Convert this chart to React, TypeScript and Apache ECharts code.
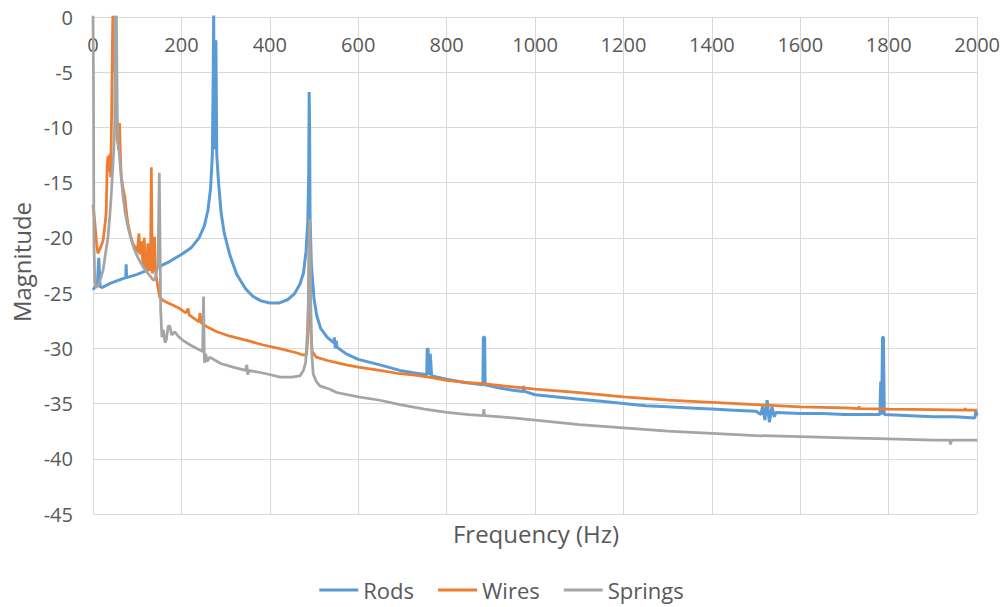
import React, { useEffect, useRef } from "react";
import * as echarts from "echarts";

const seriesNames = ["Rods", "Wires", "Springs"];
const xTicks = { min: 0, max: 2000, interval: 200 };
const yTicks = { min: -45, max: 0, interval: 5 };

const rods: [number, number][] = [
  [0, -24.7], [5, -24.4], [10, -24.2], [13, -21.8], [16, -24.4], [20, -24.5], [40, -24.1], [60, -23.8],
  [74, -23.6], [75, -22.4], [76, -23.6], [100, -23.3], [125, -22.9], [150, -22.6], [175, -22.1], [200, -21.5],
  [222, -20.9], [240, -20.0], [252, -18.9], [260, -17.5], [266, -15.5], [270, -12.5], [272, -5], [273, 0.5],
  [274, -9], [275, -12], [276, -6], [277, -11], [278, -2.1], [279, -2.1], [280, -12.5], [284, -15],
  [290, -17.8], [297, -19.6], [310, -21.6], [325, -23.3], [345, -24.6], [362, -25.3], [380, -25.7], [400, -25.9],
  [420, -25.9], [440, -25.6], [455, -25.1], [468, -24.2], [476, -23.2], [482, -21.2], [486, -18.5], [488, -14],
  [489, -6.8], [490, -10], [491, -18], [494, -22.5], [500, -25.5], [506, -27], [515, -28.2], [530, -29.0],
  [545, -29.5], [546, -29.0], [548, -30.0], [550, -29.3], [552, -29.9], [573, -30.5], [600, -31.0], [649, -31.5],
  [694, -32.0], [724, -32.2], [755, -32.4], [756, -30.0], [758, -30.1], [760, -32.4], [763, -30.5], [766, -32.5],
  [800, -32.8], [840, -33.1], [882, -33.3], [883, -29.0], [886, -29.0], [887, -33.3], [920, -33.6], [950, -33.8],
  [973, -33.9], [974, -33.4], [976, -33.9], [1000, -34.2], [1050, -34.4], [1100, -34.6], [1150, -34.8], [1200, -35.0],
  [1250, -35.2], [1300, -35.3], [1350, -35.4], [1400, -35.5], [1450, -35.6], [1500, -35.7], [1511, -36.0], [1515, -35.2],
  [1520, -36.5], [1525, -34.7], [1530, -36.7], [1536, -35.3], [1541, -36.2], [1545, -35.8], [1600, -35.9], [1650, -35.9],
  [1700, -36.0], [1750, -36.0], [1780, -36.0], [1782, -33.0], [1784, -36.0], [1786, -29.0], [1788, -29.0], [1790, -36.0],
  [1850, -36.1], [1900, -36.2], [1950, -36.2], [1995, -36.3], [1997, -35.7], [2000, -36.1],
];

const wires: [number, number][] = [
  [0, -17.0], [4, -18.5], [8, -20.5], [11, -21.4], [16, -21.0], [23, -20.2], [28, -18.5], [30, -17.5],
  [32, -13.5], [34, -12.6], [36, -14.0], [38, -12.4], [40, -14.5], [42, -9], [44, -2], [45, 0.5],
  [47, -5], [48, 0.5], [50, -3], [52, -8], [55, -11], [58, -12], [60, -9.6], [62, -12.5],
  [64, -14.5], [68, -15.5], [72, -16.3], [76, -17.8], [79, -18.7], [85, -19.8], [90, -20.5], [96, -20.9],
  [100, -21.3], [104, -19.6], [106, -21.5], [110, -20.3], [113, -22.5], [116, -20.0], [118, -22.8], [121, -22.9],
  [124, -20.5], [127, -23], [130, -22.5], [132, -13.6], [134, -23.2], [137, -22.8], [139, -19.9], [141, -22.5],
  [143, -23.5], [147, -24.5], [151, -25.4], [160, -25.7], [170, -25.9], [192, -26.3], [210, -26.8], [215, -26.4],
  [218, -27.0], [240, -27.6], [242, -26.8], [245, -27.7], [260, -28.1], [280, -28.5], [310, -28.9], [350, -29.3],
  [385, -29.7], [420, -30.0], [460, -30.4], [475, -30.6], [483, -30.6], [486, -29.0], [488, -24], [490, -18.5],
  [491, -22], [493, -28.5], [496, -30.3], [505, -30.8], [530, -31.1], [551, -31.3], [573, -31.5], [600, -31.7],
  [649, -32.0], [694, -32.3], [724, -32.4], [760, -32.6], [800, -32.9], [850, -33.1], [882, -33.2], [950, -33.5],
  [1000, -33.7], [1100, -34.0], [1200, -34.4], [1300, -34.7], [1400, -34.9], [1500, -35.1], [1600, -35.3], [1700, -35.4],
  [1732, -35.45], [1733, -35.25], [1734, -35.45], [1800, -35.5], [1900, -35.55], [1972, -35.6], [1973, -35.4], [1974, -35.6],
  [2000, -35.6],
];

const springs: [number, number][] = [
  [0, 0.5], [1, -5], [2, -20], [4, -24.0], [8, -24.5], [12, -24.3], [18, -23.6], [23, -22.9],
  [28, -21.5], [34, -19.9], [38, -18.0], [41, -16.3], [44, -14.2], [47, -12.0], [49, -10], [50, 0.5],
  [52, -8], [53, 0.5], [55, -9], [57, -11.4], [60, -12.6], [64, -14.6], [68, -16.3], [73, -17.8],
  [79, -19.0], [86, -20.1], [94, -21.1], [103, -21.9], [113, -22.6], [124, -23.2], [136, -23.8], [140, -23.8],
  [143, -23.2], [147, -22.5], [150, -14.1], [151, -14.1], [152, -22], [153, -26.5], [156, -29.0], [159, -28.3],
  [163, -29.5], [166, -29.2], [170, -28.0], [174, -28.0], [178, -28.8], [185, -28.5], [195, -29.0], [204, -29.3],
  [220, -29.7], [234, -30.0], [248, -30.3], [250, -25.3], [251, -25.3], [252, -31.3], [255, -30.5], [258, -31.2],
  [264, -30.8], [290, -31.4], [317, -31.7], [345, -32.0], [348, -31.5], [350, -32.4], [352, -32.0], [392, -32.3],
  [423, -32.6], [450, -32.6], [468, -32.5], [476, -32.0], [481, -31.3], [485, -28.5], [487, -26], [489, -20],
  [490, -18.3], [491, -20], [493, -27], [495, -30.5], [498, -32.3], [505, -33.0], [513, -33.4], [536, -33.7],
  [551, -34.0], [600, -34.4], [649, -34.7], [694, -35.1], [750, -35.5], [800, -35.8], [850, -36.0], [883, -36.1],
  [884, -35.5], [886, -36.1], [950, -36.3], [1000, -36.5], [1100, -36.9], [1200, -37.2], [1300, -37.5], [1400, -37.7],
  [1500, -37.9], [1600, -38.0], [1700, -38.1], [1800, -38.2], [1900, -38.3], [1938, -38.3], [1940, -38.7], [1942, -38.3],
  [2000, -38.3],
];

const colors = ["#5B9BD5", "#ED7D31", "#A5A5A5"];

export default function App() {
  const ref = useRef<HTMLDivElement>(null);
  useEffect(() => {
    document.body.style.margin = "0";
    if (!ref.current) return;
    const chart = echarts.init(ref.current, null, { renderer: "svg" });
    const font = "'Open Sans', sans-serif";
    const gridColor = "#D9D9D9";
    const textColor = "#595959";
    chart.setOption({
      animation: false,
      backgroundColor: "#ffffff",
      textStyle: { fontFamily: font },
      grid: { left: 93, right: 25, top: 17, bottom: 93, containLabel: false },
      xAxis: {
        type: "value",
        position: "top",
        min: xTicks.min,
        max: xTicks.max,
        interval: xTicks.interval,
        axisLine: { show: true, lineStyle: { color: gridColor, width: 1 } },
        axisTick: { show: false },
        axisLabel: {
          inside: true,
          margin: 17,
          fontSize: 20,
          color: textColor,
          fontFamily: font,
          formatter: (v: number) => String(v),
        },
        splitLine: { show: true, lineStyle: { color: gridColor, width: 1 } },
      },
      yAxis: {
        type: "value",
        min: yTicks.min,
        max: yTicks.max,
        interval: yTicks.interval,
        axisLine: { show: true, lineStyle: { color: gridColor, width: 1 } },
        axisTick: { show: false },
        axisLabel: { margin: 20, fontSize: 20, color: textColor, fontFamily: font, formatter: (v: number) => String(v) },
        splitLine: { show: true, lineStyle: { color: gridColor, width: 1 } },
      },
      legend: {
        data: seriesNames.map((n) => ({ name: n, icon: "rect" })),
        left: "center",
        top: 578,
        padding: 0,
        itemWidth: 39,
        itemHeight: 3,
        itemGap: 24,
        textStyle: { fontSize: 22, color: textColor, fontFamily: font, lineHeight: 24 },
      },
      graphic: [
        {
          type: "text",
          x: 536,
          y: 533,
          style: {
            text: "Frequency (Hz)",
            font: `24px ${font}`,
            fill: textColor,
            textAlign: "center",
            textVerticalAlign: "middle",
          },
        },
        {
          type: "text",
          x: 21,
          y: 262,
          rotation: Math.PI / 2,
          style: {
            text: "Magnitude",
            font: `24px ${font}`,
            fill: textColor,
            textAlign: "center",
            textVerticalAlign: "middle",
          },
        },
      ],
      series: [rods, wires, springs].map((d, i) => ({
        name: seriesNames[i],
        type: "line",
        data: d,
        showSymbol: false,
        symbol: "none",
        clip: true,
        lineStyle: { color: colors[i], width: i === 0 ? 3 : 2.75 },
        itemStyle: { color: colors[i] },
      })),
    });
    return () => chart.dispose();
  }, []);
  return <div ref={ref} style={{ width: 1003, height: 607 }} />;
}
